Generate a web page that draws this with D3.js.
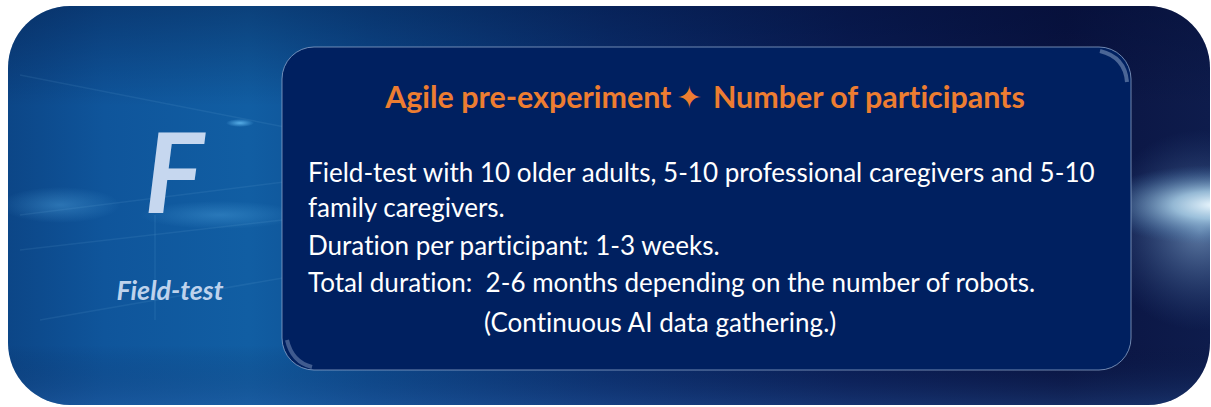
<!DOCTYPE html>
<html>
<head>
<meta charset="utf-8">
<script src="https://cdn.jsdelivr.net/npm/d3@7"></script>
<style>
  html, body { margin: 0; padding: 0; background: #fff; }
  svg { display: block; }
  text { font-variant-ligatures: none; white-space: pre; }
</style>
</head>
<body>
<div id="card"></div>
<script>
// text content of the card
const stepLetter = "F"
const stepLabel = "Field-test"
const titleParts = ["Agile pre-experiment", "\u2726", "Number of participants"]
const bodyLines = [
    "Field-test with 10 older adults, 5-10 professional caregivers and 5-10",
    "family caregivers.",
    "Duration per participant: 1-3 weeks.",
    "Total duration:  2-6 months depending on the number of robots.",
    "(Continuous AI data gathering.)"
]

function drawCard() {
    let width = 1211
    let height = 407

    let svg = d3.select("#card").append("svg")
        .attr("width", width)
        .attr("height", height)

    let defs = svg.append("defs")

    // outer background: blue on the left, navy on the right
    let bg = defs.append("linearGradient").attr("id", "bgGrad")
        .attr("x1", 0).attr("y1", 0).attr("x2", 1).attr("y2", 0)
    ;[[0, "#0c4687"], [0.08, "#0f559b"], [0.2, "#115ea3"], [0.3, "#0d4c90"],
      [0.5, "#0b3070"], [0.7, "#0a1d55"], [0.88, "#0a1442"], [1, "#0e1c4c"]]
        .forEach(s => bg.append("stop").attr("offset", s[0]).attr("stop-color", s[1]))

    let vshade = defs.append("linearGradient").attr("id", "vShade")
        .attr("x1", 0).attr("y1", 0).attr("x2", 0).attr("y2", 1)
    vshade.append("stop").attr("offset", 0).attr("stop-color", "#000a30").attr("stop-opacity", 0.35)
    vshade.append("stop").attr("offset", 0.25).attr("stop-color", "#000a30").attr("stop-opacity", 0)
    vshade.append("stop").attr("offset", 0.85).attr("stop-color", "#000a30").attr("stop-opacity", 0)
    vshade.append("stop").attr("offset", 1).attr("stop-color", "#2a5aa0").attr("stop-opacity", 0.35)

    // glow at right edge
    let glow = defs.append("radialGradient").attr("id", "glow")
        .attr("cx", 0.5).attr("cy", 0.5).attr("r", 0.5)
    glow.append("stop").attr("offset", 0).attr("stop-color", "#eef9ff").attr("stop-opacity", 1)
    glow.append("stop").attr("offset", 0.35).attr("stop-color", "#b4dcf2").attr("stop-opacity", 0.75)
    glow.append("stop").attr("offset", 1).attr("stop-color", "#3a6fa8").attr("stop-opacity", 0)

    let haze = defs.append("radialGradient").attr("id", "haze")
        .attr("cx", 0.5).attr("cy", 0.5).attr("r", 0.5)
    haze.append("stop").attr("offset", 0).attr("stop-color", "#8fb4d8").attr("stop-opacity", 0.8)
    haze.append("stop").attr("offset", 1).attr("stop-color", "#3a5f98").attr("stop-opacity", 0)

    let glowL = defs.append("radialGradient").attr("id", "glowL")
        .attr("cx", 0.5).attr("cy", 0.5).attr("r", 0.5)
    glowL.append("stop").attr("offset", 0).attr("stop-color", "#5fb6ee").attr("stop-opacity", 0.9)
    glowL.append("stop").attr("offset", 1).attr("stop-color", "#5fb6ee").attr("stop-opacity", 0)

    defs.append("clipPath").attr("id", "outerClip")
        .append("rect")
        .attr("x", 8).attr("y", 6).attr("width", 1202).attr("height", 399)
        .attr("rx", 62).attr("ry", 62)

    let outer = svg.append("g").attr("clip-path", "url(#outerClip)")

    outer.append("rect")
        .attr("x", 8).attr("y", 6).attr("width", 1202).attr("height", 399)
        .attr("fill", "url(#bgGrad)")
    outer.append("rect")
        .attr("x", 8).attr("y", 6).attr("width", 1202).attr("height", 399)
        .attr("fill", "url(#vShade)")

    // faint light streaks on the left part
    let streaks = [
        [[20, 75], [300, 130]],
        [[20, 215], [300, 180]],
        [[20, 250], [300, 218]],
        [[40, 320], [300, 275]],
        [[155, 215], [155, 320]]
    ]
    outer.append("g")
        .selectAll("line")
        .data(streaks)
        .join("line")
        .attr("x1", d => d[0][0]).attr("y1", d => d[0][1])
        .attr("x2", d => d[1][0]).attr("y2", d => d[1][1])
        .attr("stroke", "#8cc8f0")
        .attr("stroke-opacity", 0.1)
        .attr("stroke-width", 1.5)

    outer.append("ellipse")
        .attr("cx", 60).attr("cy", 205).attr("rx", 60).attr("ry", 18)
        .attr("fill", "url(#glowL)").attr("opacity", 0.4)
    outer.append("ellipse")
        .attr("cx", 240).attr("cy", 123).attr("rx", 14).attr("ry", 4)
        .attr("fill", "url(#glowL)")
    outer.append("ellipse")
        .attr("cx", 220).attr("cy", 215).attr("rx", 80).attr("ry", 14)
        .attr("fill", "url(#glowL)").attr("opacity", 0.35)

    outer.append("ellipse")
        .attr("cx", 1200).attr("cy", 230).attr("rx", 100).attr("ry", 100)
        .attr("fill", "url(#haze)").attr("opacity", 0.8)
    outer.append("ellipse")
        .attr("cx", 1215).attr("cy", 205).attr("rx", 120).attr("ry", 40)
        .attr("fill", "url(#glow)")

    // inner panel
    let panel = svg.append("g")
    panel.append("rect")
        .attr("x", 282).attr("y", 47).attr("width", 849).attr("height", 323)
        .attr("rx", 32).attr("ry", 32)
        .attr("fill", "#002060")
        .attr("stroke", "#8aa2c8")
        .attr("stroke-opacity", 0.8)
        .attr("stroke-width", 1)
    panel.append("path")
        .attr("d", "M1100,51 Q1125,57 1127,82")
        .attr("fill", "none").attr("stroke", "#b8cce8").attr("stroke-opacity", 0.4)
        .attr("stroke-width", 4)
    panel.append("path")
        .attr("d", "M287,340 Q292,362 312,367")
        .attr("fill", "none").attr("stroke", "#b8cce8").attr("stroke-opacity", 0.35)
        .attr("stroke-width", 4)

    // left letter and label
    svg.append("text")
        .attr("x", 174).attr("y", 213)
        .attr("text-anchor", "middle")
        .attr("font-family", "Lato, 'Open Sans', sans-serif")
        .attr("font-weight", "bold")
        .attr("font-style", "italic")
        .attr("font-size", 112)
        .attr("fill", "#c6d7ef")
        .text(stepLetter)

    let label = svg.append("text")
        .attr("x", 170).attr("y", 300)
        .attr("text-anchor", "middle")
        .attr("font-family", "Lato, 'Open Sans', sans-serif")
        .attr("font-weight", "bold")
        .attr("font-style", "italic")
        .attr("font-size", 20)
        .attr("fill", "#bed2ec")
        .text(stepLabel)
    fitWidth(label, 107)

    // title
    let title = svg.append("text")
        .attr("x", 705).attr("y", 108)
        .attr("text-anchor", "middle")
        .attr("font-family", "Lato, 'Open Sans', sans-serif")
        .attr("font-weight", "bold")
        .attr("font-size", 22)
        .attr("fill", "#ed7d31")
    title.selectAll("tspan")
        .data(titleParts)
        .join("tspan")
        .attr("font-family", (d, i) => i === 1 ? "'DejaVu Sans', sans-serif" : null)
        .attr("font-weight", (d, i) => i === 1 ? "normal" : null)
        .attr("dx", (d, i) => i === 0 ? 0 : i === 1 ? 5 : 11)
        .text(d => d)
    fitWidth(title, 624)

    // body text
    let baselines = [182, 217, 255, 292, 332]
    let body = svg.append("g")
        .attr("font-family", "Lato, 'Open Sans', sans-serif")
        .attr("font-size", 22)
        .attr("fill", "#ffffff")
    let lines = body.selectAll("text")
        .data(bodyLines)
        .join("text")
        .attr("x", (d, i) => i === bodyLines.length - 1 ? 484 : 308)
        .attr("y", (d, i) => baselines[i])
        .text(d => d)

    let first = lines.filter((d, i) => i === 0).node()
    let fs = 22 * 787 / first.getComputedTextLength()
    body.attr("font-size", fs)
}

function fitWidth(sel, target) {
    let fs = +sel.attr("font-size")
    let w = sel.node().getComputedTextLength()
    sel.attr("font-size", fs * target / w)
}

drawCard();
</script>
</body>
</html>
